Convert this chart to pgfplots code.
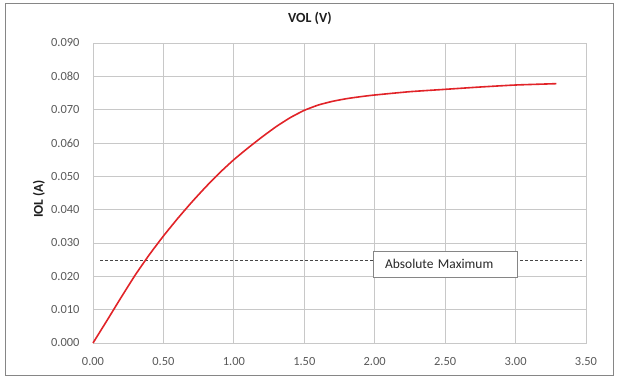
\documentclass[border=0pt]{standalone}
\usepackage{fontspec}
\setmainfont{Carlito}
\usepackage{pgfplots}
\pgfplotsset{compat=1.18}
\definecolor{gridc}{RGB}{200,200,200}
\definecolor{tickc}{RGB}{89,89,89}
\definecolor{curvec}{RGB}{225,35,40}
\definecolor{framec}{RGB}{134,134,134}
\definecolor{dashc}{RGB}{70,70,70}
\definecolor{titlec}{RGB}{30,30,30}
\begin{document}
\begin{tikzpicture}[x=1bp,y=1bp]
\useasboundingbox (0,0) rectangle (617,379);
\draw[framec, line width=1bp] (5.5,3.5) rectangle (613.5,375.5);
\begin{axis}[
  at={(93bp,36bp)}, anchor=south west,
  scale only axis, width=493bp, height=300bp,
  xmin=0, xmax=3.5, ymin=0, ymax=0.09,
  xtick={0,0.5,1,1.5,2,2.5,3,3.5},
  ytick={0,0.01,0.02,0.03,0.04,0.05,0.06,0.07,0.08,0.09},
  grid=major, major grid style={gridc, line width=0.8bp},
  axis line style={gridc, line width=0.8bp},
  major tick length=0,
  scaled y ticks=false, scaled x ticks=false,
  /pgf/number format/assume math mode=true,
  tick label style={font=\fontsize{12.5}{14}\selectfont, text=tickc},
  xticklabel={\pgfmathprintnumber[fixed,fixed zerofill,precision=2]{\tick}},
  yticklabel={\pgfmathprintnumber[fixed,fixed zerofill,precision=3]{\tick}},
  xticklabel style={yshift=-11bp},
  yticklabel style={xshift=-10bp},
  title={VOL (V)},
  title style={at={(axis description cs:0.440,1.0633)}, anchor=center, font=\fontsize{14}{16}\selectfont\bfseries, text=titlec},
  ylabel={IOL (A)},
  ylabel style={at={(axis description cs:-0.1095,0.48)}, anchor=center, font=\fontsize{13.5}{16}\selectfont\bfseries, text=titlec},
  clip=false,
]
\addplot[dashc, line width=0.9bp, dash pattern=on 3bp off 2bp] coordinates {(0.05,0.0247) (3.47,0.0247)};
\addplot[curvec, line width=1.6bp, smooth, tension=0.3] coordinates {
(0,0) (0.1,0.0068) (0.2,0.0137) (0.3,0.0204) (0.4,0.0265) (0.5,0.0321) (0.6,0.0373) (0.7,0.0422) (0.8,0.0468) (0.9,0.0511) (1.0,0.0550) (1.1,0.0585) (1.2,0.0618) (1.3,0.0649) (1.4,0.0676) (1.5,0.0698) (1.6,0.0714) (1.7,0.0725) (1.8,0.0733) (1.9,0.0739) (2.0,0.0744) (2.25,0.0754) (2.5,0.0761) (2.75,0.0768) (3.0,0.0774) (3.29,0.0778)};
\node[draw=framec, fill=white, line width=0.9bp, minimum width=144bp, minimum height=26bp, inner xsep=12bp, text width=120bp, align=left, font=\fontsize{13.5}{15}\selectfont, text=black!85] at (axis cs:2.5,0.0237) {Absolute Maximum};
\end{axis}
\end{tikzpicture}
\end{document}
